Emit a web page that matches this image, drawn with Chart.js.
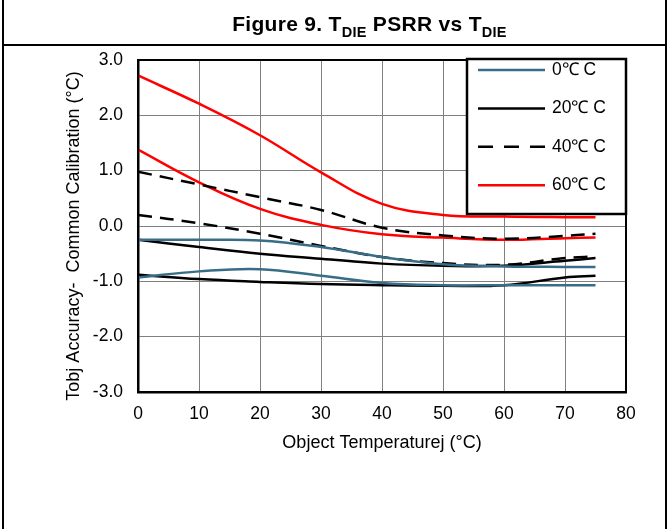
<!DOCTYPE html>
<html>
<head>
<meta charset="utf-8">
<script src="https://cdn.jsdelivr.net/npm/chart.js@4.4.1/dist/chart.umd.min.js"></script>
<style>
  html, body { margin:0; padding:0; background:#fff; }
  #wrap { position:relative; width:669px; height:529px; overflow:hidden; background:#fff; }
  #c { position:absolute; left:0; top:0; }
  .vline { position:absolute; top:0; width:2px; height:529px; background:#000; }
  .hline { position:absolute; left:2px; width:665px; height:2px; background:#000; }
  #title { position:absolute; left:0; width:739px; text-align:center; top:13px; font-family:"Liberation Sans", Arial, sans-serif; font-weight:bold; font-size:21px; letter-spacing:0.3px; line-height:21px; white-space:nowrap; color:#000; }
  #title .sub { font-size:14.5px; position:relative; top:6px; }
</style>
</head>
<body>
<div id="wrap">
  <canvas id="c" width="669" height="529"></canvas>
  <div class="vline" style="left:2px"></div>
  <div class="vline" style="left:665px"></div>
  <div class="hline" style="top:44px"></div>
  <div id="title">Figure 9. T<span class="sub">DIE</span> PSRR vs T<span class="sub">DIE</span></div>
</div>
<script>
// ---- data ----
const objectTemps = [0, 10, 20, 30, 40, 50, 60, 70, 75];
const seriesLabels = ['0℃ C', '20℃ C', '40℃ C', '60℃ C'];
const yTickValues = [-3, -2, -1, 0, 1, 2, 3];
const xTickValues = [0, 10, 20, 30, 40, 50, 60, 70, 80];

const die0Upper  = [-0.25, -0.25, -0.26, -0.38, -0.56, -0.69, -0.73, -0.74, -0.74];
const die0Lower  = [-0.93, -0.82, -0.78, -0.90, -1.03, -1.07, -1.07, -1.07, -1.07];
const die20Upper = [-0.25, -0.38, -0.50, -0.59, -0.68, -0.72, -0.72, -0.63, -0.58];
const die20Lower = [-0.88, -0.96, -1.01, -1.05, -1.07, -1.08, -1.07, -0.93, -0.90];
const die40Upper = [0.98, 0.75, 0.52, 0.29, -0.03, -0.17, -0.23, -0.18, -0.14];
const die40Lower = [0.20, 0.05, -0.14, -0.36, -0.56, -0.67, -0.70, -0.58, -0.55];
const die60Upper = [2.72, 2.21, 1.64, 0.97, 0.40, 0.20, 0.17, 0.16, 0.16];
const die60Lower = [1.38, 0.79, 0.31, 0.02, -0.15, -0.21, -0.25, -0.22, -0.21];

const FONT = '"Liberation Sans", Arial, sans-serif';
const BLUE = '#386d88';

function pts(arr) { return objectTemps.map((x, i) => ({ x: x, y: arr[i] })); }
function ds(label, arr, color, dash) {
  return {
    label: label, data: pts(arr), borderColor: color, backgroundColor: color,
    borderWidth: 2.5, borderDash: dash || [], pointRadius: 0, tension: 0.4, fill: false
  };
}

const datasets = [
  ds(seriesLabels[0], die0Upper, BLUE),
  ds(seriesLabels[0], die0Lower, BLUE),
  ds(seriesLabels[1], die20Upper, '#000000'),
  ds(seriesLabels[1], die20Lower, '#000000'),
  ds(seriesLabels[2], die40Upper, '#000000', [14, 8]),
  ds(seriesLabels[2], die40Lower, '#000000', [14, 8]),
  ds(seriesLabels[3], die60Upper, '#ff0000'),
  ds(seriesLabels[3], die60Lower, '#ff0000')
];

const frameLegend = {
  id: 'frameLegend',
  afterDatasetsDraw(chart) {
    const { ctx, chartArea: a } = chart;
    ctx.save();
    ctx.strokeStyle = '#000';
    ctx.lineWidth = 2;
    ctx.strokeRect(a.left, a.top, a.right - a.left, a.bottom - a.top);
    const bw = 159, bh = 155;
    const bx = a.right - bw, by = a.top - 1;
    ctx.fillStyle = '#fff';
    ctx.fillRect(bx, by, bw, bh);
    ctx.lineWidth = 2.5;
    ctx.strokeRect(bx, by, bw, bh);
    const seen = [];
    chart.data.datasets.forEach(d => { if (!seen.find(s => s.label === d.label)) seen.push(d); });
    seen.forEach((d, i) => {
      const y = by + 11 + i * 38.4;
      ctx.beginPath();
      ctx.setLineDash(d.borderDash && d.borderDash.length ? [15, 11] : []);
      ctx.strokeStyle = d.borderColor;
      ctx.lineWidth = d.borderWidth;
      ctx.moveTo(bx + 11, y);
      ctx.lineTo(bx + 78, y);
      ctx.stroke();
      ctx.setLineDash([]);
      ctx.fillStyle = '#000';
      ctx.font = '17.5px ' + FONT;
      ctx.textBaseline = 'middle';
      ctx.textAlign = 'left';
      ctx.fillText(d.label, bx + 85, y);
    });
    ctx.restore();
  }
};

new Chart(document.getElementById('c'), {
  type: 'line',
  data: { datasets: datasets },
  options: {
    responsive: false,
    animation: false,
    devicePixelRatio: 1,
    layout: { padding: { left: 0, right: 43, top: 60, bottom: 0 } },
    plugins: { legend: { display: false }, tooltip: { enabled: false }, title: { display: false } },
    scales: {
      x: {
        type: 'linear', min: 0, max: 80,
        afterBuildTicks: s => { s.ticks = xTickValues.map(v => ({ value: v })); },
        afterFit: s => { s.height = 137; },
        ticks: { padding: 12, color: '#000', font: { family: FONT, size: 17.5 }, callback: v => String(v), maxRotation: 0 },
        grid: { color: '#808080', lineWidth: 1, drawTicks: false },
        border: { color: '#000', width: 2.5 },
        title: { display: true, text: 'Object Temperaturej (°C)', color: '#000', font: { family: FONT, size: 18 }, padding: { top: 0, bottom: 75 } }
      },
      y: {
        type: 'linear', min: -3, max: 3,
        afterBuildTicks: s => { s.ticks = yTickValues.map(v => ({ value: v })); },
        afterFit: s => { s.width = 138; },
        ticks: { padding: 15, color: '#000', font: { family: FONT, size: 17.5 }, callback: v => Number(v).toFixed(1) },
        grid: { color: '#808080', lineWidth: 1, drawTicks: false },
        border: { color: '#000', width: 2.5 },
        title: { display: true, text: 'Tobj Accuracy-  Common Calibration (°C)    ', color: '#000', font: { family: FONT, size: 18 }, padding: { top: 63, bottom: 0 } }
      }
    }
  },
  plugins: [frameLegend]
});
</script>
</body>
</html>
